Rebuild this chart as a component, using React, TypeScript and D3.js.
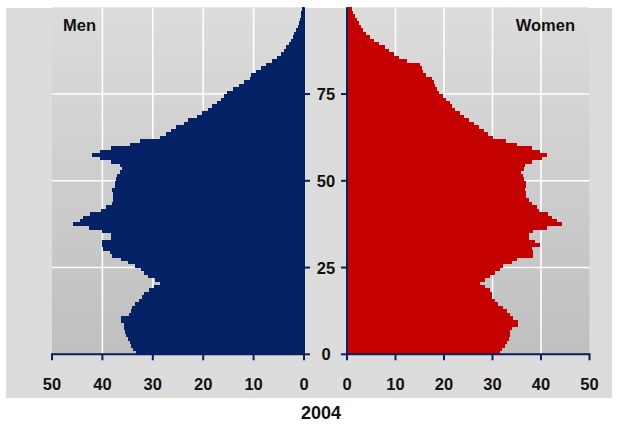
import React from "react";
import * as d3 from "d3";

// population by single year of age, 0..99 (thousands)
const ages = d3.range(0, 100);

const men = [
  33.3, 33.9, 34.3, 34.6, 34.9, 35.4, 35.5, 35.8, 35.8, 36.3,
  36.3, 34.8, 34.4, 34.2, 33.5, 32.8, 32.2, 31.7, 30.8, 29.8,
  28.5, 29.6, 31.0, 31.7, 32.3, 33.5, 35.0, 36.3, 38.0, 38.5,
  39.8, 40.0, 40.0, 38.2, 38.2, 40.1, 42.6, 45.9, 44.4, 43.8,
  42.5, 40.3, 39.3, 38.0, 37.9, 37.9, 37.9, 38.0, 37.5, 37.5,
  37.3, 37.1, 36.5, 36.2, 36.5, 38.2, 40.5, 42.1, 40.5, 38.2,
  34.5, 32.5, 28.6, 27.4, 26.3, 25.3, 23.9, 23.0, 21.3, 20.3,
  19.0, 18.3, 17.3, 16.5, 15.8, 15.2, 14.0, 12.8, 12.0, 10.8,
  10.5, 9.5, 8.5, 7.5, 6.3, 5.3, 4.6, 4.0, 3.5, 3.0,
  2.6, 2.2, 1.9, 1.5, 1.2, 1.0, 0.8, 0.6, 0.5, 0.4,
];

const women = [
  31.5, 31.9, 32.6, 32.9, 33.3, 33.6, 33.6, 34.0, 35.3, 35.3,
  34.3, 33.6, 32.9, 32.2, 31.2, 30.5, 29.8, 29.8, 29.5, 28.5,
  27.4, 28.5, 29.5, 30.5, 31.5, 32.2, 34.0, 35.0, 38.4, 38.4,
  38.1, 39.8, 38.8, 37.6, 37.6, 38.3, 41.3, 44.3, 43.2, 42.2,
  41.5, 39.5, 39.1, 38.1, 37.5, 37.0, 37.0, 36.7, 37.0, 37.0,
  36.5, 36.2, 35.8, 36.4, 36.7, 38.1, 40.3, 41.3, 39.8, 38.1,
  35.0, 32.8, 30.0, 29.0, 28.2, 27.2, 26.2, 25.2, 24.2, 23.2,
  22.3, 21.7, 21.2, 20.5, 19.8, 19.0, 18.5, 18.2, 18.0, 17.5,
  16.2, 15.7, 15.4, 15.1, 12.3, 10.8, 9.6, 8.7, 7.8, 6.5,
  5.6, 4.8, 4.0, 3.4, 2.9, 2.4, 2.0, 1.6, 1.3, 1.0,
];

const valueTicks = [0, 10, 20, 30, 40, 50];
const ageTicks = [0, 25, 50, 75];
const year = "2004";

const W = 617,
  H = 430;
const navy = "#0a1f5c";
const font = "'Liberation Sans', Arial, sans-serif";

export default function App() {
  const xMen = d3.scaleLinear().domain([0, 50]).range([304, 52]);
  const xWomen = d3.scaleLinear().domain([0, 50]).range([347, 589.5]);
  const y = d3.scaleLinear().domain([0, 100]).range([354.3, 7.3]);

  const yTop = y(100),
    yBot = y(0);

  const panel = (x0: number, x1: number, xs: d3.ScaleLinear<number, number>) => (
    <g>
      <rect x={x0} y={yTop} width={x1 - x0} height={yBot - yTop} fill="url(#pg)" />
      {valueTicks.slice(1, 5).map((t) => (
        <line key={"v" + t} x1={xs(t)} x2={xs(t)} y1={yTop} y2={yBot} stroke="#fff" strokeWidth={1.6} />
      ))}
      {ageTicks.slice(1).map((t) => (
        <line key={"h" + t} x1={x0} x2={x1} y1={y(t)} y2={y(t)} stroke="#fff" strokeWidth={1.6} />
      ))}
    </g>
  );

  return (
    <div style={{ position: "absolute", left: 0, top: 0 }}>
      <svg width={W} height={H} style={{ display: "block" }}>
        <defs>
          <linearGradient id="pg" x1="0" x2="0" y1="0" y2="1">
            <stop offset="0" stopColor="#dcdcdc" />
            <stop offset="1" stopColor="#bfbfbf" />
          </linearGradient>
        </defs>
        <rect x={0} y={0} width={W} height={H} fill="#fff" />
        <rect x={6} y={8} width={606} height={390} fill="#dcdcdc" />

        {panel(52, 304, xMen)}
        {panel(347, 589.5, xWomen)}

        <g shapeRendering="crispEdges">
          {ages.map((a, i) => (
            <rect
              key={"m" + a}
              x={xMen(men[i])}
              y={y(a + 1)}
              width={xMen(0) - xMen(men[i])}
              height={y(a) - y(a + 1) + 0.4}
              fill="#062266"
            />
          ))}
          {ages.map((a, i) => (
            <rect
              key={"w" + a}
              x={xWomen(0)}
              y={y(a + 1)}
              width={xWomen(women[i]) - xWomen(0)}
              height={y(a) - y(a + 1) + 0.4}
              fill="#c40000"
            />
          ))}
        </g>

        {/* axes */}
        <g stroke={navy} strokeWidth={2} fill="none">
          <line x1={304} x2={304} y1={yTop} y2={yBot + 1} />
          <line x1={347} x2={347} y1={yTop} y2={yBot + 1} />
          <line x1={51} x2={305} y1={yBot} y2={yBot} />
          <line x1={346} x2={590.5} y1={yBot} y2={yBot} />
          {valueTicks.map((t) => (
            <line key={"tm" + t} x1={xMen(t)} x2={xMen(t)} y1={yBot} y2={yBot + 6} />
          ))}
          {valueTicks.map((t) => (
            <line key={"tw" + t} x1={xWomen(t)} x2={xWomen(t)} y1={yBot} y2={yBot + 6} />
          ))}
          {ageTicks.map((t) => (
            <g key={"ta" + t}>
              <line x1={304} x2={310} y1={y(t)} y2={y(t)} />
              <line x1={341} x2={347} y1={y(t)} y2={y(t)} />
            </g>
          ))}
        </g>

        <g fontFamily={font} fontWeight="bold" fontSize={16.5} fill="#111">
          {ageTicks.map((t) => (
            <text key={"la" + t} x={326} y={y(t) + 6} textAnchor="middle">
              {t}
            </text>
          ))}
          {valueTicks.map((t) => (
            <text key={"lm" + t} x={xMen(t)} y={390} textAnchor="middle">
              {t}
            </text>
          ))}
          {valueTicks.map((t) => (
            <text key={"lw" + t} x={xWomen(t)} y={390} textAnchor="middle">
              {t}
            </text>
          ))}
          <text x={63} y={31}>Men</text>
          <text x={575} y={31} textAnchor="end">Women</text>
          <text x={321} y={419} textAnchor="middle" fontSize={18}>
            {year}
          </text>
        </g>
      </svg>
    </div>
  );
}
